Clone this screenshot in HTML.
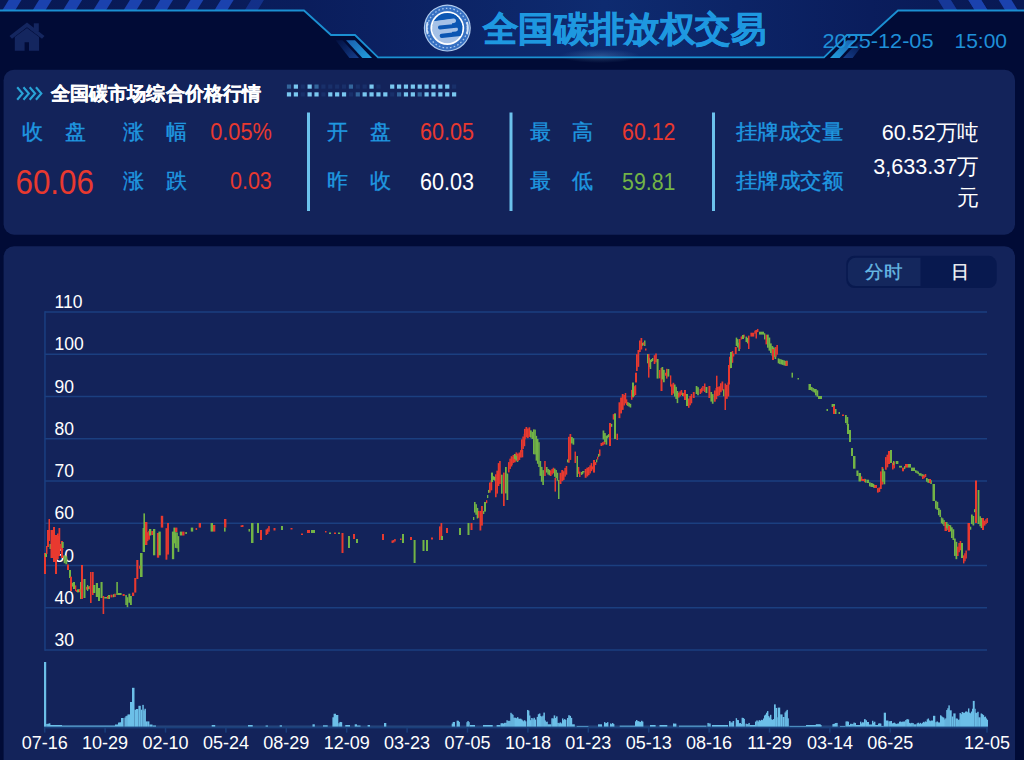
<!DOCTYPE html>
<html><head><meta charset="utf-8">
<style>
html,body{margin:0;padding:0;background:#010b36;width:1024px;height:760px;overflow:hidden}
svg{position:absolute;left:0;top:0;display:block}
text{font-family:"Liberation Sans",sans-serif}
</style></head>
<body>
<svg width="1024" height="760" viewBox="0 0 1024 760">
<defs>
<linearGradient id="hb" x1="0" y1="0" x2="1" y2="0">
<stop offset="0" stop-color="#081853"/>
<stop offset="0.3" stop-color="#0a1d5c"/>
<stop offset="0.59" stop-color="#0e2b70"/>
<stop offset="0.85" stop-color="#0a1d5c"/>
<stop offset="1" stop-color="#081853"/>
</linearGradient>
<radialGradient id="glow"><stop offset="0" stop-color="#6aa8d8" stop-opacity="0.3"/><stop offset="1" stop-color="#6aa8d8" stop-opacity="0"/></radialGradient>
<linearGradient id="pg1" x1="0" y1="0" x2="1" y2="1"><stop offset="0" stop-color="#1a5fae"/><stop offset="1" stop-color="#22a0de"/></linearGradient>
<linearGradient id="pg2" x1="0" y1="0" x2="1" y2="1"><stop offset="0" stop-color="#0d2e78" stop-opacity="0.2"/><stop offset="1" stop-color="#16408e"/></linearGradient>
<linearGradient id="pg1m" x1="1" y1="0" x2="0" y2="1"><stop offset="0" stop-color="#1a5fae"/><stop offset="1" stop-color="#22a0de"/></linearGradient>
<linearGradient id="pg2m" x1="1" y1="0" x2="0" y2="1"><stop offset="0" stop-color="#0d2e78" stop-opacity="0.2"/><stop offset="1" stop-color="#16408e"/></linearGradient>
</defs>
<polygon points="0,0 1024,0 1024,10.5 898,10.5 871,35 847,35 824,57.3 378,57.3 355,35 331,35 304,10.5 0,10.5" fill="url(#hb)"/>
<ellipse cx="600" cy="56" rx="40" ry="7" fill="url(#glow)"/>
<polygon points="2.2,10.5 15,10.5 21.5,0 8.7,0" fill="#1b42ae" opacity="1"/>
<polygon points="32.5,10.5 45.3,10.5 51.8,0 39,0" fill="#1b42ae" opacity="1"/>
<polygon points="62.8,10.5 75.6,10.5 82.1,0 69.3,0" fill="#1b42ae" opacity="1"/>
<polygon points="93.1,10.5 105.9,10.5 112.4,0 99.6,0" fill="#1b42ae" opacity="1"/>
<polygon points="123.4,10.5 136.2,10.5 142.7,0 129.9,0" fill="#1b42ae" opacity="1"/>
<polygon points="153.7,10.5 166.5,10.5 173,0 160.2,0" fill="#1b42ae" opacity="1"/>
<polygon points="184,10.5 196.8,10.5 203.3,0 190.5,0" fill="#1b42ae" opacity="1"/>
<polygon points="214.3,10.5 227.1,10.5 233.6,0 220.8,0" fill="#1b42ae" opacity="1"/>
<polygon points="987.7,10.5 974.9,10.5 968.4,0 981.2,0" fill="#1b42ae" opacity="1"/>
<polygon points="244.6,10.5 257.4,10.5 263.9,0 251.1,0" fill="#1b42ae" opacity="0.55"/>
<polygon points="957.4,10.5 944.6,10.5 938.1,0 950.9,0" fill="#1b42ae" opacity="0.5"/>
<polygon points="1018,10.5 1005.2,10.5 998.7,0 1011.5,0" fill="#1b42ae" opacity="1"/>
<polygon points="987.7,10.5 974.9,10.5 968.4,0 981.2,0" fill="#1b42ae" opacity="1"/>
<polygon points="957.4,10.5 944.6,10.5 938.1,0 950.9,0" fill="#1b42ae" opacity="0.5"/>
<polygon points="346,40.3 355,40.3 372,58 362.4,58" fill="url(#pg1)"/>
<polygon points="335.7,40.3 342.5,40.3 359,58 349.4,58" fill="url(#pg2)"/>
<polygon points="856,40.3 847,40.3 830,58 839.6,58" fill="url(#pg1m)"/>
<polygon points="866.3,40.3 859.5,40.3 843,58 852.6,58" fill="url(#pg2m)"/>
<polyline points="0,10.5 304,10.5 331,35 355,35 378,57.3 824,57.3 847,35 871,35 898,10.5 1024,10.5" fill="none" stroke="#1b90d2" stroke-width="1.8"/>
<g fill="#14265f"><path d="M9.5,36 L27,22.5 L44.5,36 L42,38.8 L27,27.3 L12,38.8 Z"/><rect x="33.8" y="23.3" width="5" height="8"/><path d="M14.8,37 L27,28 L39.1,37 L39.1,50.8 L29,50.8 L29,42.3 L24.6,42.3 L24.6,50.8 L14.8,50.8 Z"/></g>
<circle cx="447.3" cy="28.1" r="23.5" fill="#b3cdee"/>
<circle cx="447.3" cy="28.1" r="22.3" fill="#3670c2"/>
<circle cx="447.3" cy="28.1" r="19.8" fill="none" stroke="#a8c6ee" stroke-width="1.3" stroke-dasharray="1.6 2.2"/>
<path d="M427.6,22 A20.2,20.2 0 0 0 427.6,34.2 M467,22 A20.2,20.2 0 0 1 467,34.2" fill="none" stroke="#cfe0f6" stroke-width="1.8"/>
<circle cx="447.3" cy="28.1" r="16.9" fill="#ffffff"/>
<circle cx="447.3" cy="28.1" r="15.1" fill="#a5c1e7"/>
<clipPath id="lc"><circle cx="447.3" cy="28.1" r="15.1"/></clipPath>
<g clip-path="url(#lc)"><path d="M425,5 L470,5 L470,16.6 L425,22.8 Z" fill="#0b56b3"/><rect x="452" y="14" width="18" height="22" fill="#0b56b3"/><path d="M428,24.2 L453.8,20.8 M428,31.8 L455.8,29.2" stroke="#a5c1e7" stroke-width="4.4" stroke-linecap="round" fill="none"/><path d="M439.9,27.5 L472,24.1" stroke="#0b56b3" stroke-width="3.8" stroke-linecap="round" fill="none"/><path d="M441.8,35.8 L472,32.5" stroke="#0b56b3" stroke-width="4.3" stroke-linecap="round" fill="none"/></g>
<text x="483" y="41" font-size="35.3" textLength="283" lengthAdjust="spacingAndGlyphs" font-weight="bold" fill="#1e98e0" stroke="#1e98e0" stroke-width="0.6">全国碳排放权交易</text>
<text x="822.5" y="48.3" font-size="21" textLength="111" lengthAdjust="spacingAndGlyphs" fill="#1f90d8">2025-12-05</text>
<text x="954.5" y="48.3" font-size="21" fill="#1f90d8">15:00</text>

<!-- panel 1 -->
<rect x="3.6" y="69.7" width="1011.4" height="165" rx="10.5" fill="#13235a"/>
<path d="M17.2,87.2 L22.6,93.5 L17.2,99.8" fill="none" stroke="#29a3d6" stroke-width="2.1"/>
<path d="M23.45,87.2 L28.85,93.5 L23.45,99.8" fill="none" stroke="#29a3d6" stroke-width="2.1"/>
<path d="M29.7,87.2 L35.1,93.5 L29.7,99.8" fill="none" stroke="#29a3d6" stroke-width="2.1"/>
<path d="M35.95,87.2 L41.35,93.5 L35.95,99.8" fill="none" stroke="#29a3d6" stroke-width="2.1"/>
<text x="51" y="99.5" font-size="19" textLength="210" lengthAdjust="spacingAndGlyphs" font-weight="bold" fill="#ffffff" stroke="#ffffff" stroke-width="0.3">全国碳市场综合价格行情</text>
<rect x="286.9" y="84.5" width="4.2" height="4.2" fill="#33669c"/>
<rect x="293.78" y="84.5" width="4.2" height="4.2" fill="#7ac8f0"/>
<rect x="300.66" y="84.5" width="4.2" height="4.2" fill="#19306a"/>
<rect x="307.54" y="84.5" width="4.2" height="4.2" fill="#7ac8f0"/>
<rect x="314.42" y="84.5" width="4.2" height="4.2" fill="#33669c"/>
<rect x="321.3" y="84.5" width="4.2" height="4.2" fill="#19306a"/>
<rect x="328.18" y="84.5" width="4.2" height="4.2" fill="#19306a"/>
<rect x="335.06" y="84.5" width="4.2" height="4.2" fill="#19306a"/>
<rect x="341.94" y="84.5" width="4.2" height="4.2" fill="#19306a"/>
<rect x="348.82" y="84.5" width="4.2" height="4.2" fill="#33669c"/>
<rect x="355.7" y="84.5" width="4.2" height="4.2" fill="#19306a"/>
<rect x="362.58" y="84.5" width="4.2" height="4.2" fill="#19306a"/>
<rect x="369.46" y="84.5" width="4.2" height="4.2" fill="#7ac8f0"/>
<rect x="376.34" y="84.5" width="4.2" height="4.2" fill="#19306a"/>
<rect x="390.1" y="84.5" width="4.2" height="4.2" fill="#7ac8f0"/>
<rect x="396.98" y="84.5" width="4.2" height="4.2" fill="#7ac8f0"/>
<rect x="403.86" y="84.5" width="4.2" height="4.2" fill="#7ac8f0"/>
<rect x="410.74" y="84.5" width="4.2" height="4.2" fill="#7ac8f0"/>
<rect x="417.62" y="84.5" width="4.2" height="4.2" fill="#7ac8f0"/>
<rect x="424.5" y="84.5" width="4.2" height="4.2" fill="#7ac8f0"/>
<rect x="431.38" y="84.5" width="4.2" height="4.2" fill="#7ac8f0"/>
<rect x="438.26" y="84.5" width="4.2" height="4.2" fill="#7ac8f0"/>
<rect x="445.14" y="84.5" width="4.2" height="4.2" fill="#7ac8f0"/>
<rect x="452.02" y="84.5" width="4.2" height="4.2" fill="#19306a"/>
<rect x="286.9" y="92.3" width="4.2" height="4.2" fill="#7ac8f0"/>
<rect x="293.78" y="92.3" width="4.2" height="4.2" fill="#7ac8f0"/>
<rect x="300.66" y="92.3" width="4.2" height="4.2" fill="#19306a"/>
<rect x="307.54" y="92.3" width="4.2" height="4.2" fill="#7ac8f0"/>
<rect x="314.42" y="92.3" width="4.2" height="4.2" fill="#7ac8f0"/>
<rect x="321.3" y="92.3" width="4.2" height="4.2" fill="#19306a"/>
<rect x="328.18" y="92.3" width="4.2" height="4.2" fill="#7ac8f0"/>
<rect x="335.06" y="92.3" width="4.2" height="4.2" fill="#7ac8f0"/>
<rect x="341.94" y="92.3" width="4.2" height="4.2" fill="#7ac8f0"/>
<rect x="348.82" y="92.3" width="4.2" height="4.2" fill="#19306a"/>
<rect x="355.7" y="92.3" width="4.2" height="4.2" fill="#33669c"/>
<rect x="362.58" y="92.3" width="4.2" height="4.2" fill="#7ac8f0"/>
<rect x="369.46" y="92.3" width="4.2" height="4.2" fill="#7ac8f0"/>
<rect x="376.34" y="92.3" width="4.2" height="4.2" fill="#7ac8f0"/>
<rect x="383.22" y="92.3" width="4.2" height="4.2" fill="#7ac8f0"/>
<rect x="390.1" y="92.3" width="4.2" height="4.2" fill="#19306a"/>
<rect x="396.98" y="92.3" width="4.2" height="4.2" fill="#33669c"/>
<rect x="403.86" y="92.3" width="4.2" height="4.2" fill="#7ac8f0"/>
<rect x="410.74" y="92.3" width="4.2" height="4.2" fill="#7ac8f0"/>
<rect x="417.62" y="92.3" width="4.2" height="4.2" fill="#33669c"/>
<rect x="424.5" y="92.3" width="4.2" height="4.2" fill="#7ac8f0"/>
<rect x="431.38" y="92.3" width="4.2" height="4.2" fill="#7ac8f0"/>
<rect x="438.26" y="92.3" width="4.2" height="4.2" fill="#7ac8f0"/>
<rect x="445.14" y="92.3" width="4.2" height="4.2" fill="#7ac8f0"/>
<rect x="452.02" y="92.3" width="4.2" height="4.2" fill="#7ac8f0"/>
<rect x="307" y="112.5" width="3" height="98.5" fill="#6cc2ec"/>
<rect x="509.5" y="112.5" width="3" height="98.5" fill="#6cc2ec"/>
<rect x="712" y="112.5" width="3" height="98.5" fill="#6cc2ec"/>
<g font-size="21" fill="#1f98e0" stroke="#1f98e0" stroke-width="0.35">
<text x="22" y="138.5">收</text><text x="64.5" y="138.5">盘</text>
<text x="123" y="138.5">涨</text><text x="165.5" y="138.5">幅</text>
<text x="123" y="188">涨</text><text x="165.5" y="188">跌</text>
<text x="327" y="138.5">开</text><text x="369.5" y="138.5">盘</text>
<text x="327" y="188">昨</text><text x="369.5" y="188">收</text>
<text x="529.5" y="138.5">最</text><text x="572" y="138.5">高</text>
<text x="529.5" y="188">最</text><text x="572" y="188">低</text>
<text x="735.5" y="139" textLength="108" lengthAdjust="spacingAndGlyphs">挂牌成交量</text>
<text x="735.5" y="188" textLength="108" lengthAdjust="spacingAndGlyphs">挂牌成交额</text>
</g>
<text x="271.8" y="140.1" font-size="23.5" textLength="61.6" lengthAdjust="spacingAndGlyphs" fill="#e8392f" text-anchor="end">0.05%</text>
<text x="15.5" y="194" font-size="34.5" textLength="78.4" lengthAdjust="spacingAndGlyphs" fill="#e8392f">60.06</text>
<text x="271.8" y="189.4" font-size="23.5" textLength="41.8" lengthAdjust="spacingAndGlyphs" fill="#e8392f" text-anchor="end">0.03</text>
<text x="474" y="140" font-size="23.5" textLength="54" lengthAdjust="spacingAndGlyphs" fill="#e8392f" text-anchor="end">60.05</text>
<text x="474" y="189.5" font-size="23.5" textLength="54" lengthAdjust="spacingAndGlyphs" fill="#ffffff" text-anchor="end">60.03</text>
<text x="675.5" y="140" font-size="23.5" textLength="53.4" lengthAdjust="spacingAndGlyphs" fill="#e8392f" text-anchor="end">60.12</text>
<text x="675.5" y="189.5" font-size="23.5" textLength="53.4" lengthAdjust="spacingAndGlyphs" fill="#72b446" text-anchor="end">59.81</text>
<text x="979" y="140" font-size="22" textLength="97.3" lengthAdjust="spacingAndGlyphs" fill="#ffffff" text-anchor="end">60.52万吨</text>
<text x="979" y="173.5" font-size="22" textLength="105.7" lengthAdjust="spacingAndGlyphs" fill="#ffffff" text-anchor="end">3,633.37万</text>
<text x="978.5" y="205" font-size="22" fill="#ffffff" text-anchor="end">元</text>

<!-- panel 2 -->
<rect x="3.6" y="246.2" width="1011.4" height="540" rx="10.5" fill="#13235a"/>
<rect x="846.3" y="255.8" width="150.4" height="32.2" rx="8" fill="#08194f"/>
<path d="M855.8,257.8 L920.5,257.8 L920.5,286 L855.8,286 A8,8 0 0 1 847.8,278 L847.8,265.8 A8,8 0 0 1 855.8,257.8 Z" fill="#14275d"/>
<text x="883.8" y="278.2" font-size="18" textLength="37" lengthAdjust="spacingAndGlyphs" fill="#66b9e4" stroke="#66b9e4" stroke-width="0.3" text-anchor="middle">分时</text>
<text x="959.5" y="278.2" font-size="18" fill="#ffffff" stroke="#ffffff" stroke-width="0.3" text-anchor="middle">日</text>
<rect x="45" y="311.25" width="942" height="1.5" fill="#1b3f80"/>
<rect x="45" y="353.5" width="942" height="1.5" fill="#1b3f80"/>
<rect x="45" y="395.75" width="942" height="1.5" fill="#1b3f80"/>
<rect x="45" y="438" width="942" height="1.5" fill="#1b3f80"/>
<rect x="45" y="480.25" width="942" height="1.5" fill="#1b3f80"/>
<rect x="45" y="522.5" width="942" height="1.5" fill="#1b3f80"/>
<rect x="45" y="564.75" width="942" height="1.5" fill="#1b3f80"/>
<rect x="45" y="607" width="942" height="1.5" fill="#1b3f80"/>
<rect x="45" y="649.25" width="942" height="1.5" fill="#1b3f80"/>
<rect x="44.2" y="311.25" width="1.5" height="339.5" fill="#1b3f80"/>
<text x="54.5" y="308" font-size="17.5" fill="#ffffff">110</text>
<text x="54.5" y="350.25" font-size="17.5" fill="#ffffff">100</text>
<text x="54.5" y="392.5" font-size="17.5" fill="#ffffff">90</text>
<text x="54.5" y="434.75" font-size="17.5" fill="#ffffff">80</text>
<text x="54.5" y="477" font-size="17.5" fill="#ffffff">70</text>
<text x="54.5" y="519.25" font-size="17.5" fill="#ffffff">60</text>
<text x="54.5" y="561.5" font-size="17.5" fill="#ffffff">50</text>
<text x="54.5" y="603.75" font-size="17.5" fill="#ffffff">40</text>
<text x="54.5" y="646" font-size="17.5" fill="#ffffff">30</text>
<text x="44.7" y="749" font-size="18" fill="#ffffff" text-anchor="middle">07-16</text>
<text x="105.1" y="749" font-size="18" fill="#ffffff" text-anchor="middle">10-29</text>
<text x="165.5" y="749" font-size="18" fill="#ffffff" text-anchor="middle">02-10</text>
<text x="225.9" y="749" font-size="18" fill="#ffffff" text-anchor="middle">05-24</text>
<text x="286.3" y="749" font-size="18" fill="#ffffff" text-anchor="middle">08-29</text>
<text x="346.7" y="749" font-size="18" fill="#ffffff" text-anchor="middle">12-09</text>
<text x="407.1" y="749" font-size="18" fill="#ffffff" text-anchor="middle">03-23</text>
<text x="467.5" y="749" font-size="18" fill="#ffffff" text-anchor="middle">07-05</text>
<text x="527.9" y="749" font-size="18" fill="#ffffff" text-anchor="middle">10-18</text>
<text x="588.3" y="749" font-size="18" fill="#ffffff" text-anchor="middle">01-23</text>
<text x="648.7" y="749" font-size="18" fill="#ffffff" text-anchor="middle">05-13</text>
<text x="709.1" y="749" font-size="18" fill="#ffffff" text-anchor="middle">08-16</text>
<text x="769.5" y="749" font-size="18" fill="#ffffff" text-anchor="middle">11-29</text>
<text x="829.9" y="749" font-size="18" fill="#ffffff" text-anchor="middle">03-14</text>
<text x="890.3" y="749" font-size="18" fill="#ffffff" text-anchor="middle">06-25</text>
<text x="987" y="749" font-size="18" fill="#ffffff" text-anchor="middle">12-05</text>
<rect x="44" y="553" width="2" height="21" fill="#e8392f"/>
<rect x="45" y="553" width="2" height="4" fill="#72b446"/>
<rect x="46" y="546" width="1.5" height="8" fill="#e8392f"/>
<rect x="47" y="530" width="2" height="17" fill="#e8392f"/>
<rect x="48.5" y="519" width="1.5" height="22" fill="#e8392f"/>
<rect x="49.5" y="544" width="1.5" height="5" fill="#72b446"/>
<rect x="50.5" y="530" width="2.5" height="28" fill="#e8392f"/>
<rect x="53" y="527" width="2" height="35" fill="#e8392f"/>
<rect x="55" y="535" width="2" height="39" fill="#e8392f"/>
<rect x="57" y="533.5" width="1.75" height="25.6" fill="#e8392f"/>
<rect x="58.5" y="528" width="1.75" height="25.6" fill="#e8392f"/>
<rect x="58" y="536" width="2" height="20" fill="#e8392f"/>
<rect x="61" y="541" width="2" height="17" fill="#e8392f"/>
<rect x="61.6" y="542" width="2.1" height="6" fill="#72b446"/>
<rect x="63.7" y="555.24" width="1.9" height="8" fill="#72b446"/>
<rect x="65.35" y="556.32" width="1.9" height="8" fill="#72b446"/>
<rect x="67" y="564.5" width="2" height="5.5" fill="#e8392f"/>
<rect x="69" y="570" width="2" height="8" fill="#72b446"/>
<rect x="70" y="576.7" width="2" height="14.3" fill="#e8392f"/>
<rect x="73" y="582" width="2" height="7" fill="#72b446"/>
<rect x="76" y="590" width="1.2" height="2" fill="#e8392f"/>
<rect x="80" y="582" width="2" height="17" fill="#72b446"/>
<rect x="81" y="565" width="2" height="34" fill="#e8392f"/>
<rect x="83.5" y="579" width="2" height="19" fill="#72b446"/>
<rect x="87" y="585" width="1.2" height="6" fill="#72b446"/>
<rect x="90" y="572" width="1.6" height="31" fill="#e8392f"/>
<rect x="92" y="572" width="1.7" height="23" fill="#e8392f"/>
<rect x="93" y="585" width="2.3" height="8" fill="#72b446"/>
<rect x="95.8" y="583" width="2.2" height="14" fill="#72b446"/>
<rect x="98" y="588" width="2" height="13" fill="#72b446"/>
<rect x="100.5" y="582" width="2.1" height="16" fill="#72b446"/>
<rect x="102.6" y="596" width="1.6" height="18" fill="#e8392f"/>
<rect x="104.2" y="597" width="2.8" height="1.5" fill="#72b446"/>
<rect x="108" y="595" width="2" height="4" fill="#72b446"/>
<rect x="110.5" y="594.7" width="2.1" height="2.7" fill="#e8392f"/>
<rect x="114.2" y="593.7" width="1.6" height="3.3" fill="#e8392f"/>
<rect x="116.3" y="582" width="1.6" height="13" fill="#72b446"/>
<rect x="117.9" y="593" width="3.7" height="2" fill="#72b446"/>
<rect x="122.6" y="594" width="2.1" height="2" fill="#e8392f"/>
<rect x="125.3" y="595.07" width="1.6" height="9.92" fill="#72b446"/>
<rect x="126.65" y="597.21" width="1.6" height="9.92" fill="#72b446"/>
<rect x="128.4" y="593.7" width="1.85" height="9.04" fill="#72b446"/>
<rect x="130" y="595.96" width="1.85" height="9.04" fill="#72b446"/>
<rect x="132" y="592.6" width="2.2" height="3.4" fill="#e8392f"/>
<rect x="134.2" y="578" width="2.1" height="14.6" fill="#e8392f"/>
<rect x="136.3" y="560" width="2.1" height="19" fill="#e8392f"/>
<rect x="140" y="553" width="2.6" height="24" fill="#72b446"/>
<rect x="142.6" y="528" width="2.4" height="24" fill="#72b446"/>
<rect x="143.4" y="513.4" width="1.6" height="22.6" fill="#72b446"/>
<rect x="145" y="522" width="2.4" height="23" fill="#e8392f"/>
<rect x="146.6" y="532.2" width="1.8" height="8.88" fill="#e8392f"/>
<rect x="148.15" y="530.8" width="1.8" height="8.88" fill="#e8392f"/>
<rect x="149" y="529" width="2.3" height="6.5" fill="#72b446"/>
<rect x="151.3" y="531" width="1.7" height="4" fill="#e8392f"/>
<rect x="153" y="529" width="2.3" height="26.3" fill="#72b446"/>
<rect x="156.9" y="533" width="2.3" height="24.7" fill="#e8392f"/>
<rect x="158.4" y="531.6" width="2.4" height="23.7" fill="#72b446"/>
<rect x="160.8" y="515.8" width="2.4" height="11.8" fill="#e8392f"/>
<rect x="165.5" y="528.17" width="1.85" height="31.52" fill="#e8392f"/>
<rect x="167.1" y="523" width="1.85" height="31.52" fill="#e8392f"/>
<rect x="171.9" y="531.6" width="2.3" height="27.6" fill="#72b446"/>
<rect x="173.4" y="527.6" width="1.65" height="15.75" fill="#72b446"/>
<rect x="174.8" y="532.15" width="1.65" height="15.75" fill="#72b446"/>
<rect x="176.2" y="532.51" width="1.65" height="15.75" fill="#72b446"/>
<rect x="177.6" y="536.13" width="1.65" height="15.75" fill="#72b446"/>
<rect x="175" y="527.6" width="2.4" height="4.4" fill="#e8392f"/>
<rect x="179.8" y="531.6" width="2.3" height="3.9" fill="#72b446"/>
<rect x="182.1" y="531.6" width="2.4" height="3.9" fill="#e8392f"/>
<rect x="185.3" y="532" width="1.6" height="2" fill="#72b446"/>
<rect x="190.8" y="527.6" width="2.4" height="4" fill="#72b446"/>
<rect x="195.6" y="528" width="1.5" height="2" fill="#e8392f"/>
<rect x="198.7" y="523" width="2.3" height="4.6" fill="#e8392f"/>
<rect x="210.6" y="523" width="2.4" height="8.6" fill="#72b446"/>
<rect x="213" y="525" width="2.3" height="6.6" fill="#e8392f"/>
<rect x="224" y="519" width="2.4" height="8.6" fill="#e8392f"/>
<rect x="224" y="527.6" width="1.6" height="4" fill="#72b446"/>
<rect x="240.6" y="525.3" width="2.4" height="1.7" fill="#e8392f"/>
<rect x="248.5" y="529" width="1.5" height="2.6" fill="#72b446"/>
<rect x="242" y="525" width="1.5" height="2" fill="#e8392f"/>
<rect x="251" y="523" width="2.5" height="20" fill="#72b446"/>
<rect x="257" y="523" width="2" height="10" fill="#72b446"/>
<rect x="260" y="530" width="2" height="10" fill="#e8392f"/>
<rect x="265.5" y="529.42" width="1.58" height="5.58" fill="#e8392f"/>
<rect x="266.83" y="528.35" width="1.58" height="5.58" fill="#e8392f"/>
<rect x="268.17" y="526.11" width="1.58" height="5.58" fill="#e8392f"/>
<rect x="273.5" y="528" width="2" height="2.5" fill="#e8392f"/>
<rect x="281" y="526" width="2" height="4" fill="#72b446"/>
<rect x="290.5" y="528" width="2" height="1.5" fill="#e8392f"/>
<rect x="301" y="533.5" width="2" height="1.5" fill="#e8392f"/>
<rect x="307" y="530" width="3" height="3" fill="#e8392f"/>
<rect x="311" y="530" width="4" height="3" fill="#72b446"/>
<rect x="325" y="531" width="1.5" height="1.5" fill="#e8392f"/>
<rect x="329" y="532.5" width="2" height="1.5" fill="#72b446"/>
<rect x="334" y="532.5" width="2" height="1.5" fill="#e8392f"/>
<rect x="338" y="532.5" width="2" height="1.5" fill="#72b446"/>
<rect x="341.5" y="533" width="2" height="20" fill="#e8392f"/>
<rect x="348" y="536" width="2" height="12" fill="#72b446"/>
<rect x="353" y="534" width="2" height="5" fill="#e8392f"/>
<rect x="356" y="539" width="2" height="4" fill="#72b446"/>
<rect x="382" y="534" width="2" height="6" fill="#e8392f"/>
<rect x="391.5" y="540.45" width="1.58" height="2.48" fill="#e8392f"/>
<rect x="392.83" y="540.06" width="1.58" height="2.48" fill="#e8392f"/>
<rect x="394.17" y="539" width="1.58" height="2.48" fill="#e8392f"/>
<rect x="400" y="538.5" width="1.5" height="1.5" fill="#e8392f"/>
<rect x="402" y="534" width="2" height="9" fill="#72b446"/>
<rect x="410" y="537" width="2" height="3" fill="#e8392f"/>
<rect x="413.6" y="540" width="2" height="23" fill="#72b446"/>
<rect x="422.5" y="540" width="2" height="11" fill="#72b446"/>
<rect x="426" y="540" width="2" height="11" fill="#72b446"/>
<rect x="431" y="537.5" width="2" height="2" fill="#e8392f"/>
<rect x="439" y="526.4" width="1.75" height="13.6" fill="#e8392f"/>
<rect x="440.5" y="523" width="1.75" height="13.6" fill="#e8392f"/>
<rect x="441" y="536" width="2" height="4" fill="#72b446"/>
<rect x="446" y="528" width="2" height="5" fill="#e8392f"/>
<rect x="459" y="528" width="2" height="7" fill="#72b446"/>
<rect x="467.5" y="523" width="2" height="12" fill="#72b446"/>
<rect x="470.5" y="523" width="2" height="7" fill="#e8392f"/>
<rect x="474" y="502" width="1.58" height="10.54" fill="#72b446"/>
<rect x="475.33" y="504.19" width="1.58" height="10.54" fill="#72b446"/>
<rect x="476.67" y="507.94" width="1.58" height="10.54" fill="#72b446"/>
<rect x="479.5" y="510.9" width="1.8" height="19.6" fill="#e8392f"/>
<rect x="481.05" y="506" width="1.8" height="19.6" fill="#e8392f"/>
<rect x="484" y="502" width="2" height="9.6" fill="#72b446"/>
<rect x="489" y="482.52" width="1.75" height="10.08" fill="#e8392f"/>
<rect x="490.5" y="480.28" width="1.75" height="10.08" fill="#e8392f"/>
<rect x="491" y="472.6" width="2" height="9.4" fill="#72b446"/>
<rect x="495" y="474.3" width="1.62" height="22.94" fill="#e8392f"/>
<rect x="496.38" y="470.66" width="1.62" height="22.94" fill="#e8392f"/>
<rect x="497.75" y="463.1" width="1.62" height="22.94" fill="#e8392f"/>
<rect x="499.12" y="461" width="1.62" height="22.94" fill="#e8392f"/>
<rect x="501" y="474.7" width="1.6" height="19" fill="#72b446"/>
<rect x="503" y="472.6" width="1.7" height="33.4" fill="#e8392f"/>
<rect x="505" y="467" width="1.75" height="26.4" fill="#72b446"/>
<rect x="506.5" y="473.6" width="1.75" height="26.4" fill="#72b446"/>
<rect x="508" y="462.12" width="1.58" height="10.29" fill="#e8392f"/>
<rect x="509.33" y="458.66" width="1.58" height="10.29" fill="#e8392f"/>
<rect x="510.67" y="456.23" width="1.58" height="10.29" fill="#e8392f"/>
<rect x="511" y="456.84" width="1.75" height="8.06" fill="#e8392f"/>
<rect x="512.5" y="454.88" width="1.75" height="8.06" fill="#e8392f"/>
<rect x="514" y="454.26" width="1.75" height="8.06" fill="#e8392f"/>
<rect x="515.5" y="452.41" width="1.75" height="8.06" fill="#e8392f"/>
<rect x="514" y="454" width="1.58" height="4.96" fill="#72b446"/>
<rect x="515.33" y="455.62" width="1.58" height="4.96" fill="#72b446"/>
<rect x="516.67" y="457.04" width="1.58" height="4.96" fill="#72b446"/>
<rect x="517" y="453.56" width="1.75" height="7.44" fill="#e8392f"/>
<rect x="518.5" y="452.48" width="1.75" height="7.44" fill="#e8392f"/>
<rect x="520" y="450.11" width="1.75" height="7.44" fill="#e8392f"/>
<rect x="521.5" y="449.92" width="1.75" height="7.44" fill="#e8392f"/>
<rect x="521" y="439.38" width="1.58" height="12.4" fill="#e8392f"/>
<rect x="522.33" y="436.54" width="1.58" height="12.4" fill="#e8392f"/>
<rect x="523.67" y="433.82" width="1.58" height="12.4" fill="#e8392f"/>
<rect x="524" y="428.88" width="1.75" height="10.4" fill="#e8392f"/>
<rect x="525.5" y="427" width="1.75" height="10.4" fill="#e8392f"/>
<rect x="527" y="428.52" width="1.75" height="9.6" fill="#e8392f"/>
<rect x="528.5" y="427.32" width="1.75" height="9.6" fill="#e8392f"/>
<rect x="530" y="430.38" width="1.75" height="7.2" fill="#72b446"/>
<rect x="531.5" y="431.8" width="1.75" height="7.2" fill="#72b446"/>
<rect x="533" y="429.4" width="1.55" height="24.8" fill="#72b446"/>
<rect x="534.3" y="429.61" width="1.55" height="24.8" fill="#72b446"/>
<rect x="535.6" y="435.85" width="1.55" height="24.8" fill="#72b446"/>
<rect x="536.9" y="439" width="1.55" height="24.8" fill="#72b446"/>
<rect x="538.2" y="442.2" width="1.55" height="24.8" fill="#72b446"/>
<rect x="539.5" y="461" width="1.65" height="14.88" fill="#72b446"/>
<rect x="540.9" y="466.87" width="1.65" height="14.88" fill="#72b446"/>
<rect x="542.3" y="470.12" width="1.65" height="14.88" fill="#72b446"/>
<rect x="544.2" y="461" width="1.5" height="15" fill="#e8392f"/>
<rect x="546" y="467" width="1.58" height="5.58" fill="#72b446"/>
<rect x="547.33" y="468.95" width="1.58" height="5.58" fill="#72b446"/>
<rect x="548.67" y="469.79" width="1.58" height="5.58" fill="#72b446"/>
<rect x="550" y="470.42" width="1.58" height="5.58" fill="#e8392f"/>
<rect x="551.33" y="468.92" width="1.58" height="5.58" fill="#e8392f"/>
<rect x="552.67" y="467.71" width="1.58" height="5.58" fill="#e8392f"/>
<rect x="554" y="468.67" width="1.58" height="8.06" fill="#72b446"/>
<rect x="555.33" y="470.02" width="1.58" height="8.06" fill="#72b446"/>
<rect x="556.67" y="472.7" width="1.58" height="8.06" fill="#72b446"/>
<rect x="554.5" y="478" width="1.5" height="13.6" fill="#e8392f"/>
<rect x="558" y="480" width="1.5" height="19" fill="#72b446"/>
<rect x="559.5" y="472.8" width="2" height="11.2" fill="#e8392f"/>
<rect x="561.25" y="470" width="2" height="11.2" fill="#e8392f"/>
<rect x="563" y="471.23" width="1.58" height="8.68" fill="#e8392f"/>
<rect x="564.33" y="467.92" width="1.58" height="8.68" fill="#e8392f"/>
<rect x="565.67" y="466" width="1.58" height="8.68" fill="#e8392f"/>
<rect x="568" y="436.79" width="1.75" height="25.92" fill="#e8392f"/>
<rect x="569.5" y="433.99" width="1.75" height="25.92" fill="#e8392f"/>
<rect x="571" y="437" width="1.75" height="6.4" fill="#72b446"/>
<rect x="572.5" y="438.28" width="1.75" height="6.4" fill="#72b446"/>
<rect x="574.5" y="451.6" width="1.5" height="11.4" fill="#e8392f"/>
<rect x="576.5" y="456" width="1.5" height="21" fill="#72b446"/>
<rect x="579" y="471.6" width="1.5" height="5.4" fill="#e8392f"/>
<rect x="583" y="471" width="1.5" height="1.5" fill="#72b446"/>
<rect x="584.7" y="469.01" width="1.9" height="8.8" fill="#e8392f"/>
<rect x="586.35" y="467.65" width="1.9" height="8.8" fill="#e8392f"/>
<rect x="588" y="467.07" width="1.58" height="8.06" fill="#e8392f"/>
<rect x="589.33" y="465.36" width="1.58" height="8.06" fill="#e8392f"/>
<rect x="590.67" y="463.1" width="1.58" height="8.06" fill="#e8392f"/>
<rect x="593" y="460" width="2" height="12.6" fill="#e8392f"/>
<rect x="599" y="449.5" width="1.5" height="6.3" fill="#e8392f"/>
<rect x="600.5" y="442.9" width="1.75" height="3.1" fill="#e8392f"/>
<rect x="602" y="442.21" width="1.75" height="3.1" fill="#e8392f"/>
<rect x="603.5" y="441.29" width="1.75" height="3.1" fill="#e8392f"/>
<rect x="602.6" y="430.5" width="1.72" height="8.99" fill="#72b446"/>
<rect x="604.07" y="433.06" width="1.72" height="8.99" fill="#72b446"/>
<rect x="605.53" y="435.68" width="1.72" height="8.99" fill="#72b446"/>
<rect x="609" y="423" width="2" height="23" fill="#e8392f"/>
<rect x="612.7" y="414.16" width="1.7" height="5.44" fill="#e8392f"/>
<rect x="614.15" y="413.3" width="1.7" height="5.44" fill="#e8392f"/>
<rect x="614" y="413.7" width="2" height="25.3" fill="#72b446"/>
<rect x="616.5" y="433.7" width="1.5" height="6.3" fill="#e8392f"/>
<rect x="618.5" y="402.3" width="1.88" height="15.87" fill="#e8392f"/>
<rect x="620.13" y="397.54" width="1.88" height="15.87" fill="#e8392f"/>
<rect x="621.77" y="394" width="1.88" height="15.87" fill="#e8392f"/>
<rect x="623.4" y="395.05" width="1.55" height="10.4" fill="#e8392f"/>
<rect x="624.7" y="393" width="1.55" height="10.4" fill="#e8392f"/>
<rect x="627" y="402.09" width="1.58" height="3.72" fill="#72b446"/>
<rect x="628.33" y="402.91" width="1.58" height="3.72" fill="#72b446"/>
<rect x="629.67" y="403.8" width="1.58" height="3.72" fill="#72b446"/>
<rect x="631" y="389.87" width="1.5" height="9.92" fill="#e8392f"/>
<rect x="632.25" y="387.72" width="1.5" height="9.92" fill="#e8392f"/>
<rect x="633.5" y="386.2" width="1.5" height="9.92" fill="#e8392f"/>
<rect x="634.75" y="385.16" width="1.5" height="9.92" fill="#e8392f"/>
<rect x="632" y="382.5" width="2" height="14.5" fill="#72b446"/>
<rect x="635" y="372.7" width="2" height="9.8" fill="#e8392f"/>
<rect x="636" y="354.2" width="1.75" height="16.8" fill="#e8392f"/>
<rect x="637.5" y="350.05" width="1.75" height="16.8" fill="#e8392f"/>
<rect x="639" y="340.48" width="1.75" height="11.52" fill="#e8392f"/>
<rect x="640.5" y="338.01" width="1.75" height="11.52" fill="#e8392f"/>
<rect x="644" y="340.5" width="1.5" height="5.5" fill="#72b446"/>
<rect x="645" y="348.5" width="1.5" height="2" fill="#e8392f"/>
<rect x="647" y="354" width="1.58" height="9.3" fill="#72b446"/>
<rect x="648.33" y="357.81" width="1.58" height="9.3" fill="#72b446"/>
<rect x="649.67" y="359.7" width="1.58" height="9.3" fill="#72b446"/>
<rect x="648" y="354" width="1.5" height="23.6" fill="#e8392f"/>
<rect x="653.7" y="355.2" width="1.7" height="8.8" fill="#e8392f"/>
<rect x="655.15" y="353.52" width="1.7" height="8.8" fill="#e8392f"/>
<rect x="656.6" y="359" width="2" height="19.6" fill="#72b446"/>
<rect x="660.5" y="368" width="2" height="23" fill="#e8392f"/>
<rect x="661.5" y="367" width="1.75" height="12.4" fill="#72b446"/>
<rect x="663" y="369.85" width="1.75" height="12.4" fill="#72b446"/>
<rect x="666" y="368.8" width="1.5" height="9.8" fill="#e8392f"/>
<rect x="667.4" y="369" width="1.9" height="7.6" fill="#72b446"/>
<rect x="671" y="384.34" width="1.75" height="10.8" fill="#e8392f"/>
<rect x="672.5" y="382.79" width="1.75" height="10.8" fill="#e8392f"/>
<rect x="674" y="384.5" width="1.58" height="12.09" fill="#72b446"/>
<rect x="675.33" y="386.86" width="1.58" height="12.09" fill="#72b446"/>
<rect x="676.67" y="391" width="1.58" height="12.09" fill="#72b446"/>
<rect x="678" y="392.61" width="1.58" height="4.96" fill="#e8392f"/>
<rect x="679.33" y="391.32" width="1.58" height="4.96" fill="#e8392f"/>
<rect x="680.67" y="390" width="1.58" height="4.96" fill="#e8392f"/>
<rect x="684" y="390" width="2" height="10" fill="#e8392f"/>
<rect x="686" y="394" width="2" height="12" fill="#72b446"/>
<rect x="688" y="398.5" width="1.58" height="9.3" fill="#e8392f"/>
<rect x="689.33" y="396.01" width="1.58" height="9.3" fill="#e8392f"/>
<rect x="690.67" y="394" width="1.58" height="9.3" fill="#e8392f"/>
<rect x="692.8" y="392" width="1.9" height="6" fill="#e8392f"/>
<rect x="695.7" y="386" width="1.7" height="8" fill="#72b446"/>
<rect x="697.15" y="387.24" width="1.7" height="8" fill="#72b446"/>
<rect x="699.6" y="389.04" width="1.55" height="4.96" fill="#e8392f"/>
<rect x="700.9" y="387.67" width="1.55" height="4.96" fill="#e8392f"/>
<rect x="702.2" y="386" width="1.55" height="4.96" fill="#e8392f"/>
<rect x="704" y="383.5" width="1.5" height="8.5" fill="#e8392f"/>
<rect x="705.5" y="387" width="1.9" height="6" fill="#72b446"/>
<rect x="708.4" y="386" width="2" height="12" fill="#e8392f"/>
<rect x="710.4" y="392" width="1.7" height="9.6" fill="#72b446"/>
<rect x="711.85" y="394.11" width="1.7" height="9.6" fill="#72b446"/>
<rect x="714" y="390.5" width="1.75" height="11.2" fill="#e8392f"/>
<rect x="715.5" y="388" width="1.75" height="11.2" fill="#e8392f"/>
<rect x="716" y="375.7" width="1.5" height="12.3" fill="#e8392f"/>
<rect x="717" y="387.01" width="1.75" height="8.99" fill="#e8392f"/>
<rect x="718.5" y="386.32" width="1.75" height="8.99" fill="#e8392f"/>
<rect x="720" y="383.26" width="1.75" height="8.99" fill="#e8392f"/>
<rect x="721.5" y="381.5" width="1.75" height="8.99" fill="#e8392f"/>
<rect x="724.5" y="383.5" width="1.5" height="26.5" fill="#e8392f"/>
<rect x="726" y="384.84" width="1.75" height="14" fill="#e8392f"/>
<rect x="727.5" y="382.5" width="1.75" height="14" fill="#e8392f"/>
<rect x="728" y="365" width="2" height="19.5" fill="#e8392f"/>
<rect x="729" y="356.74" width="1.58" height="11.78" fill="#e8392f"/>
<rect x="730.33" y="352.89" width="1.58" height="11.78" fill="#e8392f"/>
<rect x="731.67" y="351" width="1.58" height="11.78" fill="#e8392f"/>
<rect x="730" y="352" width="2" height="16" fill="#72b446"/>
<rect x="734.8" y="347" width="1.9" height="7" fill="#e8392f"/>
<rect x="735.7" y="337.6" width="1.55" height="8.31" fill="#72b446"/>
<rect x="737" y="339.12" width="1.55" height="8.31" fill="#72b446"/>
<rect x="738.3" y="342.69" width="1.55" height="8.31" fill="#72b446"/>
<rect x="739" y="339" width="1.5" height="10" fill="#e8392f"/>
<rect x="740.6" y="336.46" width="1.55" height="3.04" fill="#e8392f"/>
<rect x="741.9" y="335.25" width="1.55" height="3.04" fill="#e8392f"/>
<rect x="743.2" y="334.63" width="1.55" height="3.04" fill="#e8392f"/>
<rect x="742" y="335" width="2" height="4" fill="#72b446"/>
<rect x="745.5" y="336.6" width="1.7" height="5.44" fill="#72b446"/>
<rect x="746.95" y="337.96" width="1.7" height="5.44" fill="#72b446"/>
<rect x="748" y="335.6" width="1.5" height="13.4" fill="#e8392f"/>
<rect x="750.4" y="332.7" width="3.9" height="3.9" fill="#e8392f"/>
<rect x="754.3" y="330.66" width="1.55" height="3.04" fill="#e8392f"/>
<rect x="755.6" y="330.02" width="1.55" height="3.04" fill="#e8392f"/>
<rect x="756.9" y="328.95" width="1.55" height="3.04" fill="#e8392f"/>
<rect x="755.5" y="330" width="1.5" height="8.5" fill="#e8392f"/>
<rect x="759" y="331.7" width="5" height="2.9" fill="#72b446"/>
<rect x="765.5" y="334.6" width="1.5" height="9.8" fill="#e8392f"/>
<rect x="767" y="334.6" width="1.75" height="13.12" fill="#72b446"/>
<rect x="768.5" y="337.53" width="1.75" height="13.12" fill="#72b446"/>
<rect x="770" y="343.4" width="1.75" height="9.67" fill="#72b446"/>
<rect x="771.5" y="346.05" width="1.75" height="9.67" fill="#72b446"/>
<rect x="773" y="347.43" width="1.75" height="9.67" fill="#72b446"/>
<rect x="774.5" y="349.33" width="1.75" height="9.67" fill="#72b446"/>
<rect x="772" y="349" width="2" height="11" fill="#e8392f"/>
<rect x="775" y="347.07" width="1.6" height="9.6" fill="#e8392f"/>
<rect x="776.35" y="345" width="1.6" height="9.6" fill="#e8392f"/>
<rect x="777.7" y="358.4" width="1.65" height="4.96" fill="#72b446"/>
<rect x="779.1" y="359.13" width="1.65" height="4.96" fill="#72b446"/>
<rect x="780.5" y="359.46" width="1.65" height="4.96" fill="#72b446"/>
<rect x="781.9" y="359.91" width="1.65" height="4.96" fill="#72b446"/>
<rect x="783.3" y="360.43" width="1.65" height="4.96" fill="#72b446"/>
<rect x="784.7" y="360.84" width="1.65" height="4.96" fill="#72b446"/>
<rect x="786.1" y="360.69" width="1.65" height="4.96" fill="#72b446"/>
<rect x="785.5" y="361" width="2" height="5" fill="#e8392f"/>
<rect x="791.5" y="372.7" width="1.5" height="4.9" fill="#72b446"/>
<rect x="797.5" y="378" width="1.5" height="1.5" fill="#72b446"/>
<rect x="808.5" y="384" width="2.5" height="6" fill="#72b446"/>
<rect x="811" y="387.02" width="1.58" height="3.72" fill="#72b446"/>
<rect x="812.33" y="388" width="1.58" height="3.72" fill="#72b446"/>
<rect x="813.67" y="388.83" width="1.58" height="3.72" fill="#72b446"/>
<rect x="815" y="389" width="1.75" height="6.4" fill="#72b446"/>
<rect x="816.5" y="390.32" width="1.75" height="6.4" fill="#72b446"/>
<rect x="818" y="396" width="4" height="3" fill="#72b446"/>
<rect x="826.5" y="409" width="1.5" height="2" fill="#72b446"/>
<rect x="831.6" y="404" width="3.4" height="3" fill="#72b446"/>
<rect x="833" y="406" width="2" height="8" fill="#e8392f"/>
<rect x="835" y="409" width="1.5" height="5" fill="#72b446"/>
<rect x="838.5" y="412" width="1.5" height="2" fill="#72b446"/>
<rect x="842" y="414.5" width="2" height="1.5" fill="#e8392f"/>
<rect x="845" y="415" width="1.75" height="8" fill="#72b446"/>
<rect x="846.5" y="417" width="1.75" height="8" fill="#72b446"/>
<rect x="847" y="424" width="2" height="10" fill="#72b446"/>
<rect x="849" y="430" width="2" height="12" fill="#72b446"/>
<rect x="851" y="448" width="2" height="8" fill="#72b446"/>
<rect x="853" y="456" width="2.5" height="12.7" fill="#72b446"/>
<rect x="856.4" y="470.5" width="2.1" height="5.5" fill="#72b446"/>
<rect x="858.5" y="473" width="2.5" height="8.5" fill="#72b446"/>
<rect x="862" y="479" width="2" height="2" fill="#e8392f"/>
<rect x="866.6" y="479.7" width="2.4" height="3.3" fill="#72b446"/>
<rect x="869" y="482.37" width="1.75" height="4" fill="#72b446"/>
<rect x="870.5" y="482.96" width="1.75" height="4" fill="#72b446"/>
<rect x="874" y="485" width="3" height="3" fill="#e8392f"/>
<rect x="877" y="488.12" width="1.75" height="4.48" fill="#e8392f"/>
<rect x="878.5" y="487.44" width="1.75" height="4.48" fill="#e8392f"/>
<rect x="880" y="471.4" width="1.75" height="17.6" fill="#e8392f"/>
<rect x="881.5" y="467" width="1.75" height="17.6" fill="#e8392f"/>
<rect x="882" y="468.7" width="1.75" height="13.04" fill="#72b446"/>
<rect x="883.5" y="471.25" width="1.75" height="13.04" fill="#72b446"/>
<rect x="885" y="457.09" width="1.75" height="12.64" fill="#e8392f"/>
<rect x="886.5" y="454.7" width="1.75" height="12.64" fill="#e8392f"/>
<rect x="888" y="451" width="2" height="13" fill="#e8392f"/>
<rect x="890" y="450" width="2" height="13" fill="#72b446"/>
<rect x="892" y="462.7" width="1.6" height="6.8" fill="#e8392f"/>
<rect x="893.35" y="461.54" width="1.6" height="6.8" fill="#e8392f"/>
<rect x="893" y="461" width="1.2" height="4" fill="#72b446"/>
<rect x="895.7" y="461" width="2.7" height="3" fill="#72b446"/>
<rect x="899" y="465.8" width="3" height="1.8" fill="#72b446"/>
<rect x="902" y="467.6" width="2" height="3.7" fill="#e8392f"/>
<rect x="905" y="464" width="3" height="3.6" fill="#e8392f"/>
<rect x="908" y="464" width="3" height="3.6" fill="#72b446"/>
<rect x="911" y="467.6" width="4" height="3.4" fill="#72b446"/>
<rect x="915" y="470.22" width="1.48" height="2.48" fill="#72b446"/>
<rect x="916.23" y="470.75" width="1.48" height="2.48" fill="#72b446"/>
<rect x="917.47" y="471.52" width="1.48" height="2.48" fill="#72b446"/>
<rect x="918.7" y="473.19" width="1.57" height="2.48" fill="#72b446"/>
<rect x="920.03" y="473.24" width="1.57" height="2.48" fill="#72b446"/>
<rect x="921.35" y="474.12" width="1.57" height="2.48" fill="#72b446"/>
<rect x="922.67" y="474.52" width="1.57" height="2.48" fill="#72b446"/>
<rect x="922" y="475.9" width="1.58" height="3.1" fill="#e8392f"/>
<rect x="923.33" y="475.15" width="1.58" height="3.1" fill="#e8392f"/>
<rect x="924.67" y="474" width="1.58" height="3.1" fill="#e8392f"/>
<rect x="926" y="478" width="1.65" height="3.72" fill="#72b446"/>
<rect x="927.4" y="479.04" width="1.65" height="3.72" fill="#72b446"/>
<rect x="928.8" y="479.36" width="1.65" height="3.72" fill="#72b446"/>
<rect x="930.2" y="480.28" width="1.65" height="3.72" fill="#72b446"/>
<rect x="929" y="479" width="2" height="4" fill="#e8392f"/>
<rect x="932.5" y="484" width="2.5" height="17" fill="#72b446"/>
<rect x="935" y="500.75" width="1.75" height="8" fill="#72b446"/>
<rect x="936.5" y="501.83" width="1.75" height="8" fill="#72b446"/>
<rect x="938" y="508" width="1.65" height="7.2" fill="#72b446"/>
<rect x="939.4" y="509.8" width="1.65" height="7.2" fill="#72b446"/>
<rect x="940.8" y="517.35" width="1.48" height="5.95" fill="#72b446"/>
<rect x="942.03" y="518.32" width="1.48" height="5.95" fill="#72b446"/>
<rect x="943.27" y="520.08" width="1.48" height="5.95" fill="#72b446"/>
<rect x="944.5" y="522" width="2.5" height="9" fill="#e8392f"/>
<rect x="946" y="522" width="1.5" height="6.2" fill="#72b446"/>
<rect x="947.25" y="523.91" width="1.5" height="6.2" fill="#72b446"/>
<rect x="948.5" y="525.02" width="1.5" height="6.2" fill="#72b446"/>
<rect x="949.75" y="525.23" width="1.5" height="6.2" fill="#72b446"/>
<rect x="948" y="526" width="2" height="6" fill="#e8392f"/>
<rect x="951" y="527.3" width="1.75" height="10.72" fill="#72b446"/>
<rect x="952.5" y="529.28" width="1.75" height="10.72" fill="#72b446"/>
<rect x="954" y="538.55" width="1.75" height="17.36" fill="#72b446"/>
<rect x="955.5" y="541.82" width="1.75" height="17.36" fill="#72b446"/>
<rect x="957" y="546.7" width="1.58" height="9.3" fill="#e8392f"/>
<rect x="958.33" y="542.96" width="1.58" height="9.3" fill="#e8392f"/>
<rect x="959.67" y="541" width="1.58" height="9.3" fill="#e8392f"/>
<rect x="961" y="543" width="2" height="15" fill="#72b446"/>
<rect x="963" y="555.4" width="1.45" height="8" fill="#e8392f"/>
<rect x="964.2" y="553.26" width="1.45" height="8" fill="#e8392f"/>
<rect x="965.4" y="550.55" width="1.45" height="8" fill="#e8392f"/>
<rect x="967.5" y="523" width="2.5" height="27.5" fill="#e8392f"/>
<rect x="971" y="514.53" width="1.75" height="9.52" fill="#72b446"/>
<rect x="972.5" y="515.95" width="1.75" height="9.52" fill="#72b446"/>
<rect x="975" y="480.5" width="2" height="42.5" fill="#e8392f"/>
<rect x="977.6" y="490" width="1.8" height="34" fill="#72b446"/>
<rect x="979.4" y="516.24" width="1.55" height="10" fill="#72b446"/>
<rect x="980.7" y="518" width="1.55" height="10" fill="#72b446"/>
<rect x="982" y="518" width="2" height="12" fill="#e8392f"/>
<rect x="984" y="520.67" width="1.48" height="4.96" fill="#e8392f"/>
<rect x="985.23" y="519.2" width="1.48" height="4.96" fill="#e8392f"/>
<rect x="986.47" y="518" width="1.48" height="4.96" fill="#e8392f"/>
<rect x="60" y="543.88" width="1.3" height="5.75" fill="#e8392f"/>
<rect x="72" y="582.76" width="1.3" height="3.82" fill="#72b446"/>
<rect x="75" y="585.38" width="1.3" height="5.75" fill="#e8392f"/>
<rect x="77" y="589.38" width="1.3" height="3" fill="#72b446"/>
<rect x="78" y="589.25" width="1.3" height="3" fill="#72b446"/>
<rect x="79" y="589.12" width="1.3" height="3" fill="#e8392f"/>
<rect x="86" y="586.75" width="1.3" height="3" fill="#e8392f"/>
<rect x="88" y="586.33" width="1.3" height="3" fill="#72b446"/>
<rect x="89" y="586.17" width="1.3" height="3" fill="#e8392f"/>
<rect x="107" y="595.88" width="1.3" height="3" fill="#e8392f"/>
<rect x="113" y="594.2" width="1.3" height="3" fill="#72b446"/>
<rect x="139" y="565.75" width="1.3" height="3" fill="#e8392f"/>
<rect x="473" y="517" width="1.3" height="3" fill="#72b446"/>
<rect x="478" y="510.94" width="1.3" height="6.88" fill="#e8392f"/>
<rect x="483" y="511.02" width="1.3" height="3" fill="#72b446"/>
<rect x="486" y="500.18" width="1.3" height="3" fill="#e8392f"/>
<rect x="487" y="495.05" width="1.3" height="3" fill="#72b446"/>
<rect x="488" y="489.93" width="1.3" height="3" fill="#72b446"/>
<rect x="493" y="476.17" width="1.3" height="3.73" fill="#72b446"/>
<rect x="494" y="476.9" width="1.3" height="3.73" fill="#72b446"/>
<rect x="567" y="459.4" width="1.3" height="3" fill="#72b446"/>
<rect x="578" y="466.95" width="1.3" height="6.9" fill="#e8392f"/>
<rect x="581" y="471.95" width="1.3" height="3" fill="#72b446"/>
<rect x="582" y="471.1" width="1.3" height="3" fill="#72b446"/>
<rect x="592" y="466.4" width="1.3" height="3" fill="#e8392f"/>
<rect x="595" y="462.07" width="1.3" height="3" fill="#e8392f"/>
<rect x="596" y="459.34" width="1.3" height="3" fill="#72b446"/>
<rect x="597" y="456.61" width="1.3" height="3" fill="#e8392f"/>
<rect x="598" y="453.88" width="1.3" height="3" fill="#72b446"/>
<rect x="607" y="435.17" width="1.3" height="3" fill="#72b446"/>
<rect x="608" y="434.08" width="1.3" height="3" fill="#72b446"/>
<rect x="611" y="423.85" width="1.3" height="3" fill="#72b446"/>
<rect x="626" y="399.38" width="1.3" height="5.75" fill="#e8392f"/>
<rect x="642" y="342.78" width="1.3" height="3" fill="#72b446"/>
<rect x="643" y="342.27" width="1.3" height="3" fill="#e8392f"/>
<rect x="651" y="359" width="1.3" height="3" fill="#72b446"/>
<rect x="652" y="358" width="1.3" height="3" fill="#72b446"/>
<rect x="659" y="369.98" width="1.3" height="8.35" fill="#e8392f"/>
<rect x="665" y="372.73" width="1.3" height="3" fill="#e8392f"/>
<rect x="670" y="375.41" width="1.3" height="11.22" fill="#e8392f"/>
<rect x="682" y="392.67" width="1.3" height="3.33" fill="#72b446"/>
<rect x="683" y="393" width="1.3" height="3.33" fill="#e8392f"/>
<rect x="723" y="389.25" width="1.3" height="7" fill="#72b446"/>
<rect x="733" y="353.5" width="1.3" height="3" fill="#e8392f"/>
<rect x="764" y="333.24" width="1.3" height="6.18" fill="#72b446"/>
<rect x="861" y="476.44" width="1.3" height="4.38" fill="#e8392f"/>
<rect x="864" y="478.73" width="1.3" height="3.45" fill="#e8392f"/>
<rect x="865" y="479.18" width="1.3" height="3.45" fill="#72b446"/>
<rect x="872" y="483.33" width="1.3" height="3.67" fill="#72b446"/>
<rect x="873" y="484" width="1.3" height="3.67" fill="#72b446"/>
<rect x="904" y="466.12" width="1.3" height="3" fill="#72b446"/>
<rect x="970" y="526.7" width="1.3" height="3" fill="#72b446"/>
<rect x="974" y="509.2" width="1.3" height="3" fill="#72b446"/>
<rect x="44" y="725.6" width="944" height="1.2" fill="#6cbfe8" opacity="0.3"/>
<rect x="44" y="662" width="2.2" height="65" fill="#6cbfe8"/>
<rect x="46.2" y="723.91" width="1.67" height="3.09" fill="#6cbfe8"/>
<rect x="47.47" y="723.77" width="1.67" height="3.23" fill="#6cbfe8"/>
<rect x="48.73" y="723.32" width="1.67" height="3.68" fill="#6cbfe8"/>
<rect x="50" y="725" width="12" height="2" fill="#6cbfe8"/>
<rect x="62" y="725.6" width="53" height="1.4" fill="#6cbfe8"/>
<rect x="115" y="724.5" width="3" height="2.5" fill="#6cbfe8"/>
<rect x="118" y="722.56" width="1.4" height="4.44" fill="#6cbfe8"/>
<rect x="119" y="722.49" width="1.4" height="4.51" fill="#6cbfe8"/>
<rect x="120" y="722.34" width="1.4" height="4.66" fill="#6cbfe8"/>
<rect x="121" y="718" width="2.6" height="9" fill="#6cbfe8"/>
<rect x="124.4" y="717.56" width="1.43" height="9.44" fill="#6cbfe8"/>
<rect x="125.43" y="716.15" width="1.43" height="10.85" fill="#6cbfe8"/>
<rect x="126.47" y="715.64" width="1.43" height="11.36" fill="#6cbfe8"/>
<rect x="127.5" y="714.4" width="2.5" height="12.6" fill="#6cbfe8"/>
<rect x="130" y="702" width="2" height="25" fill="#6cbfe8"/>
<rect x="132" y="687.8" width="2.5" height="39.2" fill="#6cbfe8"/>
<rect x="134.5" y="709.7" width="1.5" height="17.3" fill="#6cbfe8"/>
<rect x="136" y="709" width="2.4" height="18" fill="#6cbfe8"/>
<rect x="138.4" y="705.8" width="2.4" height="21.2" fill="#6cbfe8"/>
<rect x="140.8" y="709.7" width="1.5" height="17.3" fill="#6cbfe8"/>
<rect x="142.3" y="704.88" width="1.47" height="22.12" fill="#6cbfe8"/>
<rect x="143.37" y="710.41" width="1.47" height="16.59" fill="#6cbfe8"/>
<rect x="144.43" y="708.76" width="1.47" height="18.24" fill="#6cbfe8"/>
<rect x="145.5" y="721.4" width="2.3" height="5.6" fill="#6cbfe8"/>
<rect x="147.8" y="721.4" width="1.6" height="5.6" fill="#6cbfe8"/>
<rect x="149.4" y="724.5" width="3.1" height="2.5" fill="#6cbfe8"/>
<rect x="152.5" y="725.5" width="3.5" height="1.5" fill="#6cbfe8"/>
<rect x="211.7" y="725" width="3.5" height="2" fill="#6cbfe8"/>
<rect x="248" y="725" width="4.7" height="2" fill="#6cbfe8"/>
<rect x="265.6" y="725.5" width="2.4" height="1.5" fill="#6cbfe8"/>
<rect x="279.7" y="725.3" width="2.3" height="1.7" fill="#6cbfe8"/>
<rect x="312.5" y="724.3" width="2.3" height="2.7" fill="#6cbfe8"/>
<rect x="323" y="725.3" width="4.7" height="1.7" fill="#6cbfe8"/>
<rect x="332.4" y="717.3" width="2.35" height="9.7" fill="#6cbfe8"/>
<rect x="333.6" y="713.75" width="2.4" height="13.25" fill="#6cbfe8"/>
<rect x="336" y="715" width="2.3" height="12" fill="#6cbfe8"/>
<rect x="338.3" y="723.24" width="1.57" height="3.76" fill="#6cbfe8"/>
<rect x="339.47" y="721.94" width="1.57" height="5.06" fill="#6cbfe8"/>
<rect x="340.63" y="722.15" width="1.57" height="4.85" fill="#6cbfe8"/>
<rect x="345.3" y="725" width="4.7" height="2" fill="#6cbfe8"/>
<rect x="354.7" y="724.3" width="2.3" height="2.7" fill="#6cbfe8"/>
<rect x="357" y="725.5" width="3.5" height="1.5" fill="#6cbfe8"/>
<rect x="367.6" y="725" width="2.4" height="2" fill="#6cbfe8"/>
<rect x="384" y="723" width="2.3" height="4" fill="#6cbfe8"/>
<rect x="451.7" y="723.55" width="1.37" height="3.45" fill="#6cbfe8"/>
<rect x="452.67" y="721.95" width="1.37" height="5.05" fill="#6cbfe8"/>
<rect x="453.63" y="721.98" width="1.37" height="5.02" fill="#6cbfe8"/>
<rect x="456.6" y="720.69" width="1.37" height="6.31" fill="#6cbfe8"/>
<rect x="457.57" y="720.79" width="1.37" height="6.21" fill="#6cbfe8"/>
<rect x="458.53" y="721.87" width="1.37" height="5.13" fill="#6cbfe8"/>
<rect x="466.4" y="722.21" width="1.37" height="4.79" fill="#6cbfe8"/>
<rect x="467.37" y="720.99" width="1.37" height="6.01" fill="#6cbfe8"/>
<rect x="468.33" y="722.11" width="1.37" height="4.89" fill="#6cbfe8"/>
<rect x="470" y="725" width="5" height="2" fill="#6cbfe8"/>
<rect x="483" y="725" width="9.7" height="2" fill="#6cbfe8"/>
<rect x="496.6" y="725" width="3.9" height="2" fill="#6cbfe8"/>
<rect x="500.5" y="723.29" width="1.58" height="3.71" fill="#6cbfe8"/>
<rect x="501.68" y="723.21" width="1.58" height="3.79" fill="#6cbfe8"/>
<rect x="502.86" y="723.57" width="1.58" height="3.43" fill="#6cbfe8"/>
<rect x="504.04" y="722.83" width="1.58" height="4.17" fill="#6cbfe8"/>
<rect x="505.22" y="722.87" width="1.58" height="4.13" fill="#6cbfe8"/>
<rect x="506.4" y="720.25" width="1.38" height="6.75" fill="#6cbfe8"/>
<rect x="507.38" y="721.01" width="1.38" height="5.99" fill="#6cbfe8"/>
<rect x="508.35" y="720.73" width="1.38" height="6.27" fill="#6cbfe8"/>
<rect x="509.32" y="721.06" width="1.38" height="5.94" fill="#6cbfe8"/>
<rect x="510.3" y="712.81" width="1.37" height="14.19" fill="#6cbfe8"/>
<rect x="511.27" y="713.91" width="1.37" height="13.09" fill="#6cbfe8"/>
<rect x="512.23" y="714.86" width="1.37" height="12.14" fill="#6cbfe8"/>
<rect x="513.2" y="717.72" width="1.67" height="9.28" fill="#6cbfe8"/>
<rect x="514.47" y="717.73" width="1.67" height="9.27" fill="#6cbfe8"/>
<rect x="515.73" y="718.21" width="1.67" height="8.79" fill="#6cbfe8"/>
<rect x="517" y="717.15" width="1.4" height="9.85" fill="#6cbfe8"/>
<rect x="518" y="718.58" width="1.4" height="8.42" fill="#6cbfe8"/>
<rect x="519" y="718.89" width="1.4" height="8.11" fill="#6cbfe8"/>
<rect x="520" y="718.68" width="1.4" height="8.32" fill="#6cbfe8"/>
<rect x="521" y="719.47" width="1.4" height="7.53" fill="#6cbfe8"/>
<rect x="522" y="720.43" width="1.4" height="6.57" fill="#6cbfe8"/>
<rect x="523" y="721.3" width="1.4" height="5.7" fill="#6cbfe8"/>
<rect x="524" y="720.24" width="1.4" height="6.76" fill="#6cbfe8"/>
<rect x="525" y="721.33" width="1.4" height="5.67" fill="#6cbfe8"/>
<rect x="527" y="709.96" width="1.4" height="17.04" fill="#6cbfe8"/>
<rect x="528" y="710.6" width="1.4" height="16.4" fill="#6cbfe8"/>
<rect x="529" y="715.48" width="1.4" height="11.52" fill="#6cbfe8"/>
<rect x="530" y="720.16" width="1.54" height="6.84" fill="#6cbfe8"/>
<rect x="531.14" y="717.99" width="1.54" height="9.01" fill="#6cbfe8"/>
<rect x="532.28" y="719.35" width="1.54" height="7.65" fill="#6cbfe8"/>
<rect x="533.42" y="717.77" width="1.54" height="9.23" fill="#6cbfe8"/>
<rect x="534.56" y="719.58" width="1.54" height="7.42" fill="#6cbfe8"/>
<rect x="536.7" y="716.93" width="1.51" height="10.07" fill="#6cbfe8"/>
<rect x="537.81" y="714.22" width="1.51" height="12.78" fill="#6cbfe8"/>
<rect x="538.93" y="713.5" width="1.51" height="13.5" fill="#6cbfe8"/>
<rect x="540.04" y="715.97" width="1.51" height="11.03" fill="#6cbfe8"/>
<rect x="541.16" y="716.86" width="1.51" height="10.14" fill="#6cbfe8"/>
<rect x="542.27" y="715.66" width="1.51" height="11.34" fill="#6cbfe8"/>
<rect x="543.39" y="712.59" width="1.51" height="14.41" fill="#6cbfe8"/>
<rect x="544.5" y="720.45" width="1.37" height="6.55" fill="#6cbfe8"/>
<rect x="545.47" y="721.97" width="1.37" height="5.03" fill="#6cbfe8"/>
<rect x="546.43" y="721.66" width="1.37" height="5.34" fill="#6cbfe8"/>
<rect x="547.4" y="724.3" width="3.9" height="2.7" fill="#6cbfe8"/>
<rect x="551.3" y="718.3" width="1.58" height="8.7" fill="#6cbfe8"/>
<rect x="552.48" y="718.47" width="1.58" height="8.53" fill="#6cbfe8"/>
<rect x="553.66" y="715.42" width="1.58" height="11.58" fill="#6cbfe8"/>
<rect x="554.84" y="717.98" width="1.58" height="9.02" fill="#6cbfe8"/>
<rect x="556.02" y="716.4" width="1.58" height="10.6" fill="#6cbfe8"/>
<rect x="557.2" y="722.86" width="1.6" height="4.14" fill="#6cbfe8"/>
<rect x="558.4" y="723.29" width="1.6" height="3.71" fill="#6cbfe8"/>
<rect x="559.6" y="722.38" width="1.6" height="4.62" fill="#6cbfe8"/>
<rect x="560.8" y="723.39" width="1.6" height="3.61" fill="#6cbfe8"/>
<rect x="562" y="718.43" width="1.4" height="8.57" fill="#6cbfe8"/>
<rect x="563" y="720.14" width="1.4" height="6.86" fill="#6cbfe8"/>
<rect x="564" y="719.16" width="1.4" height="7.84" fill="#6cbfe8"/>
<rect x="565" y="719.83" width="1.4" height="7.17" fill="#6cbfe8"/>
<rect x="567" y="718.01" width="1.6" height="8.99" fill="#6cbfe8"/>
<rect x="568.2" y="715.24" width="1.6" height="11.76" fill="#6cbfe8"/>
<rect x="569.4" y="715.9" width="1.6" height="11.1" fill="#6cbfe8"/>
<rect x="570.6" y="717.88" width="1.6" height="9.12" fill="#6cbfe8"/>
<rect x="571.8" y="724.3" width="3" height="2.7" fill="#6cbfe8"/>
<rect x="576.7" y="726" width="11.7" height="1" fill="#6cbfe8"/>
<rect x="598" y="724.3" width="4" height="2.7" fill="#6cbfe8"/>
<rect x="604" y="722.12" width="1.4" height="4.88" fill="#6cbfe8"/>
<rect x="605" y="723.26" width="1.4" height="3.74" fill="#6cbfe8"/>
<rect x="606" y="722.95" width="1.4" height="4.05" fill="#6cbfe8"/>
<rect x="607" y="722.17" width="1.4" height="4.83" fill="#6cbfe8"/>
<rect x="610" y="723.48" width="1.4" height="3.52" fill="#6cbfe8"/>
<rect x="611" y="724.2" width="1.4" height="2.8" fill="#6cbfe8"/>
<rect x="612" y="723.02" width="1.4" height="3.98" fill="#6cbfe8"/>
<rect x="613" y="724.05" width="1.4" height="2.95" fill="#6cbfe8"/>
<rect x="619.7" y="725.7" width="15.3" height="1.3" fill="#6cbfe8"/>
<rect x="635" y="721.31" width="1.4" height="5.69" fill="#6cbfe8"/>
<rect x="636" y="720.01" width="1.4" height="6.99" fill="#6cbfe8"/>
<rect x="637" y="721.13" width="1.4" height="5.87" fill="#6cbfe8"/>
<rect x="638" y="721.21" width="1.4" height="5.79" fill="#6cbfe8"/>
<rect x="639" y="721.78" width="1.4" height="5.22" fill="#6cbfe8"/>
<rect x="640" y="721.96" width="1.4" height="5.04" fill="#6cbfe8"/>
<rect x="641" y="720.77" width="1.4" height="6.23" fill="#6cbfe8"/>
<rect x="642" y="721.59" width="1.4" height="5.41" fill="#6cbfe8"/>
<rect x="650" y="725" width="5.6" height="2" fill="#6cbfe8"/>
<rect x="659.5" y="725" width="7.8" height="2" fill="#6cbfe8"/>
<rect x="673" y="723.44" width="1.4" height="3.56" fill="#6cbfe8"/>
<rect x="674" y="723.76" width="1.4" height="3.24" fill="#6cbfe8"/>
<rect x="675" y="723.64" width="1.4" height="3.36" fill="#6cbfe8"/>
<rect x="679" y="725.7" width="27.4" height="1.3" fill="#6cbfe8"/>
<rect x="707.4" y="722.95" width="1.37" height="4.05" fill="#6cbfe8"/>
<rect x="708.37" y="723.6" width="1.37" height="3.4" fill="#6cbfe8"/>
<rect x="709.33" y="723.48" width="1.37" height="3.52" fill="#6cbfe8"/>
<rect x="712" y="725" width="16" height="2" fill="#6cbfe8"/>
<rect x="729" y="721.07" width="1.59" height="5.93" fill="#6cbfe8"/>
<rect x="730.19" y="722.48" width="1.59" height="4.52" fill="#6cbfe8"/>
<rect x="731.38" y="722.54" width="1.59" height="4.46" fill="#6cbfe8"/>
<rect x="732.56" y="720.98" width="1.59" height="6.02" fill="#6cbfe8"/>
<rect x="735.7" y="718.17" width="1.37" height="8.83" fill="#6cbfe8"/>
<rect x="736.67" y="719.95" width="1.37" height="7.05" fill="#6cbfe8"/>
<rect x="737.63" y="720.14" width="1.37" height="6.86" fill="#6cbfe8"/>
<rect x="738.6" y="723.25" width="1.4" height="3.75" fill="#6cbfe8"/>
<rect x="739.6" y="722.98" width="1.4" height="4.02" fill="#6cbfe8"/>
<rect x="740.6" y="724" width="1.4" height="3" fill="#6cbfe8"/>
<rect x="741.6" y="717.76" width="1.37" height="9.24" fill="#6cbfe8"/>
<rect x="742.57" y="717.97" width="1.37" height="9.03" fill="#6cbfe8"/>
<rect x="743.53" y="718.85" width="1.37" height="8.15" fill="#6cbfe8"/>
<rect x="745.5" y="723.69" width="1.37" height="3.31" fill="#6cbfe8"/>
<rect x="746.48" y="724.12" width="1.37" height="2.88" fill="#6cbfe8"/>
<rect x="747.45" y="724.21" width="1.37" height="2.79" fill="#6cbfe8"/>
<rect x="748.42" y="722.95" width="1.37" height="4.05" fill="#6cbfe8"/>
<rect x="749.4" y="725" width="5.6" height="2" fill="#6cbfe8"/>
<rect x="755" y="721.6" width="1.6" height="5.4" fill="#6cbfe8"/>
<rect x="756.2" y="720.48" width="1.6" height="6.52" fill="#6cbfe8"/>
<rect x="757.4" y="721.56" width="1.6" height="5.44" fill="#6cbfe8"/>
<rect x="758.6" y="720.19" width="1.6" height="6.81" fill="#6cbfe8"/>
<rect x="759.8" y="720.74" width="1.6" height="6.26" fill="#6cbfe8"/>
<rect x="761" y="719.82" width="1.4" height="7.18" fill="#6cbfe8"/>
<rect x="762" y="720.19" width="1.4" height="6.81" fill="#6cbfe8"/>
<rect x="763" y="718.48" width="1.4" height="8.52" fill="#6cbfe8"/>
<rect x="764" y="715.46" width="1.4" height="11.54" fill="#6cbfe8"/>
<rect x="765" y="714.57" width="1.4" height="12.43" fill="#6cbfe8"/>
<rect x="766" y="712.72" width="1.4" height="14.28" fill="#6cbfe8"/>
<rect x="767" y="711.08" width="1.4" height="15.92" fill="#6cbfe8"/>
<rect x="768" y="716.08" width="1.4" height="10.92" fill="#6cbfe8"/>
<rect x="769" y="717.48" width="1.4" height="9.52" fill="#6cbfe8"/>
<rect x="770" y="714.82" width="1.4" height="12.18" fill="#6cbfe8"/>
<rect x="771" y="719.3" width="1.4" height="7.7" fill="#6cbfe8"/>
<rect x="772" y="719.96" width="1.4" height="7.04" fill="#6cbfe8"/>
<rect x="773" y="719.08" width="1.4" height="7.92" fill="#6cbfe8"/>
<rect x="774" y="704.37" width="1.75" height="22.63" fill="#6cbfe8"/>
<rect x="775.35" y="707.94" width="1.75" height="19.06" fill="#6cbfe8"/>
<rect x="776.7" y="717.3" width="1" height="9.7" fill="#6cbfe8"/>
<rect x="777.7" y="707.6" width="2.5" height="19.4" fill="#6cbfe8"/>
<rect x="780.2" y="714.4" width="2.4" height="12.6" fill="#6cbfe8"/>
<rect x="782.6" y="717" width="1.9" height="10" fill="#6cbfe8"/>
<rect x="784.5" y="712.51" width="1.4" height="14.49" fill="#6cbfe8"/>
<rect x="785.5" y="711.22" width="1.4" height="15.78" fill="#6cbfe8"/>
<rect x="786.5" y="709.87" width="1.4" height="17.13" fill="#6cbfe8"/>
<rect x="787.5" y="718.3" width="1.3" height="8.7" fill="#6cbfe8"/>
<rect x="789.4" y="726" width="16.6" height="1" fill="#6cbfe8"/>
<rect x="806" y="725" width="15.6" height="2" fill="#6cbfe8"/>
<rect x="815.8" y="724.2" width="4.9" height="2.8" fill="#6cbfe8"/>
<rect x="832.4" y="724.08" width="1.62" height="2.92" fill="#6cbfe8"/>
<rect x="833.62" y="723.77" width="1.62" height="3.23" fill="#6cbfe8"/>
<rect x="834.85" y="723.05" width="1.62" height="3.95" fill="#6cbfe8"/>
<rect x="836.07" y="722.92" width="1.62" height="4.08" fill="#6cbfe8"/>
<rect x="840" y="726" width="5.5" height="1" fill="#6cbfe8"/>
<rect x="845.5" y="721.5" width="1.43" height="5.5" fill="#6cbfe8"/>
<rect x="846.53" y="721.43" width="1.43" height="5.57" fill="#6cbfe8"/>
<rect x="847.57" y="721.65" width="1.43" height="5.35" fill="#6cbfe8"/>
<rect x="848.6" y="725" width="1.4" height="2" fill="#6cbfe8"/>
<rect x="850" y="723.76" width="1.52" height="3.24" fill="#6cbfe8"/>
<rect x="851.12" y="723.92" width="1.52" height="3.08" fill="#6cbfe8"/>
<rect x="852.24" y="723.95" width="1.52" height="3.05" fill="#6cbfe8"/>
<rect x="853.36" y="722.6" width="1.52" height="4.4" fill="#6cbfe8"/>
<rect x="854.48" y="722.92" width="1.52" height="4.08" fill="#6cbfe8"/>
<rect x="855.6" y="725" width="4.4" height="2" fill="#6cbfe8"/>
<rect x="860" y="721.67" width="1.4" height="5.33" fill="#6cbfe8"/>
<rect x="861" y="723.36" width="1.4" height="3.64" fill="#6cbfe8"/>
<rect x="862" y="722.25" width="1.4" height="4.75" fill="#6cbfe8"/>
<rect x="863" y="722.53" width="1.4" height="4.47" fill="#6cbfe8"/>
<rect x="864" y="719.14" width="1.7" height="7.86" fill="#6cbfe8"/>
<rect x="865.3" y="720.32" width="1.7" height="6.68" fill="#6cbfe8"/>
<rect x="866.6" y="722" width="2.4" height="5" fill="#6cbfe8"/>
<rect x="869" y="724.5" width="3" height="2.5" fill="#6cbfe8"/>
<rect x="872" y="720.79" width="1.4" height="6.21" fill="#6cbfe8"/>
<rect x="873" y="722.7" width="1.4" height="4.3" fill="#6cbfe8"/>
<rect x="874" y="721.73" width="1.4" height="5.27" fill="#6cbfe8"/>
<rect x="875" y="725" width="3" height="2" fill="#6cbfe8"/>
<rect x="878" y="723.55" width="1.4" height="3.45" fill="#6cbfe8"/>
<rect x="879" y="723.35" width="1.4" height="3.65" fill="#6cbfe8"/>
<rect x="880" y="723.55" width="1.4" height="3.45" fill="#6cbfe8"/>
<rect x="881" y="726" width="2.75" height="1" fill="#6cbfe8"/>
<rect x="883.75" y="712.7" width="2.25" height="14.3" fill="#6cbfe8"/>
<rect x="886" y="720.5" width="2.4" height="6.5" fill="#6cbfe8"/>
<rect x="888.4" y="721.4" width="1.47" height="5.6" fill="#6cbfe8"/>
<rect x="889.47" y="721.22" width="1.47" height="5.78" fill="#6cbfe8"/>
<rect x="890.53" y="720.97" width="1.47" height="6.03" fill="#6cbfe8"/>
<rect x="891.6" y="723.44" width="1.43" height="3.56" fill="#6cbfe8"/>
<rect x="892.63" y="722.94" width="1.43" height="4.06" fill="#6cbfe8"/>
<rect x="893.67" y="722.61" width="1.43" height="4.39" fill="#6cbfe8"/>
<rect x="894.7" y="723.49" width="1.47" height="3.51" fill="#6cbfe8"/>
<rect x="895.78" y="724.04" width="1.47" height="2.96" fill="#6cbfe8"/>
<rect x="896.85" y="723.58" width="1.47" height="3.42" fill="#6cbfe8"/>
<rect x="897.92" y="723.5" width="1.47" height="3.5" fill="#6cbfe8"/>
<rect x="899" y="721.67" width="1.4" height="5.33" fill="#6cbfe8"/>
<rect x="900" y="721.57" width="1.4" height="5.43" fill="#6cbfe8"/>
<rect x="901" y="722.07" width="1.4" height="4.93" fill="#6cbfe8"/>
<rect x="902" y="721.65" width="1.4" height="5.35" fill="#6cbfe8"/>
<rect x="903" y="721.6" width="1.4" height="5.4" fill="#6cbfe8"/>
<rect x="904" y="721.53" width="1.59" height="5.47" fill="#6cbfe8"/>
<rect x="905.19" y="720.06" width="1.59" height="6.94" fill="#6cbfe8"/>
<rect x="906.38" y="719.13" width="1.59" height="7.87" fill="#6cbfe8"/>
<rect x="907.56" y="719.43" width="1.59" height="7.57" fill="#6cbfe8"/>
<rect x="908.75" y="722.87" width="1.56" height="4.13" fill="#6cbfe8"/>
<rect x="909.91" y="723.39" width="1.56" height="3.61" fill="#6cbfe8"/>
<rect x="911.08" y="722.86" width="1.56" height="4.14" fill="#6cbfe8"/>
<rect x="912.24" y="723.1" width="1.56" height="3.9" fill="#6cbfe8"/>
<rect x="913.4" y="724.3" width="3.2" height="2.7" fill="#6cbfe8"/>
<rect x="916.6" y="723.31" width="1.43" height="3.69" fill="#6cbfe8"/>
<rect x="917.63" y="722.71" width="1.43" height="4.29" fill="#6cbfe8"/>
<rect x="918.67" y="723.85" width="1.43" height="3.15" fill="#6cbfe8"/>
<rect x="919.7" y="722.84" width="1.43" height="4.16" fill="#6cbfe8"/>
<rect x="920.73" y="723.93" width="1.43" height="3.07" fill="#6cbfe8"/>
<rect x="921.77" y="723.07" width="1.43" height="3.93" fill="#6cbfe8"/>
<rect x="922.8" y="721.86" width="1.38" height="5.14" fill="#6cbfe8"/>
<rect x="923.77" y="722.38" width="1.38" height="4.62" fill="#6cbfe8"/>
<rect x="924.75" y="721.41" width="1.38" height="5.59" fill="#6cbfe8"/>
<rect x="925.73" y="721.83" width="1.38" height="5.17" fill="#6cbfe8"/>
<rect x="926.7" y="719.38" width="1.37" height="7.62" fill="#6cbfe8"/>
<rect x="927.68" y="718.48" width="1.37" height="8.52" fill="#6cbfe8"/>
<rect x="928.65" y="720.42" width="1.37" height="6.58" fill="#6cbfe8"/>
<rect x="929.62" y="721.14" width="1.37" height="5.86" fill="#6cbfe8"/>
<rect x="930.6" y="720.5" width="2.4" height="6.5" fill="#6cbfe8"/>
<rect x="933" y="715.8" width="2.3" height="11.2" fill="#6cbfe8"/>
<rect x="935.3" y="722.24" width="1.58" height="4.76" fill="#6cbfe8"/>
<rect x="936.47" y="721.46" width="1.58" height="5.54" fill="#6cbfe8"/>
<rect x="937.65" y="722.44" width="1.58" height="4.56" fill="#6cbfe8"/>
<rect x="938.83" y="722.51" width="1.58" height="4.49" fill="#6cbfe8"/>
<rect x="940" y="715.28" width="1.4" height="11.72" fill="#6cbfe8"/>
<rect x="941" y="716.27" width="1.4" height="10.73" fill="#6cbfe8"/>
<rect x="942" y="717.15" width="1.4" height="9.85" fill="#6cbfe8"/>
<rect x="943" y="717.63" width="1.48" height="9.37" fill="#6cbfe8"/>
<rect x="944.08" y="719.46" width="1.48" height="7.54" fill="#6cbfe8"/>
<rect x="945.17" y="718.36" width="1.48" height="8.64" fill="#6cbfe8"/>
<rect x="946.25" y="710.06" width="1.45" height="16.94" fill="#6cbfe8"/>
<rect x="947.3" y="708.27" width="1.45" height="18.73" fill="#6cbfe8"/>
<rect x="948.35" y="705.38" width="1.45" height="21.62" fill="#6cbfe8"/>
<rect x="949.4" y="710.3" width="2.3" height="16.7" fill="#6cbfe8"/>
<rect x="951.7" y="716.5" width="1.6" height="10.5" fill="#6cbfe8"/>
<rect x="953.3" y="713.4" width="2.3" height="13.6" fill="#6cbfe8"/>
<rect x="955.6" y="718.5" width="1.37" height="8.5" fill="#6cbfe8"/>
<rect x="956.58" y="718.6" width="1.37" height="8.4" fill="#6cbfe8"/>
<rect x="957.55" y="720.05" width="1.37" height="6.95" fill="#6cbfe8"/>
<rect x="958.52" y="719.47" width="1.37" height="7.53" fill="#6cbfe8"/>
<rect x="959.5" y="713.07" width="1.47" height="13.93" fill="#6cbfe8"/>
<rect x="960.57" y="714.16" width="1.47" height="12.84" fill="#6cbfe8"/>
<rect x="961.63" y="711.99" width="1.47" height="15.01" fill="#6cbfe8"/>
<rect x="962.7" y="712.7" width="2.3" height="14.3" fill="#6cbfe8"/>
<rect x="965" y="711.58" width="1.4" height="15.42" fill="#6cbfe8"/>
<rect x="966" y="711.51" width="1.4" height="15.49" fill="#6cbfe8"/>
<rect x="967" y="712.26" width="1.4" height="14.74" fill="#6cbfe8"/>
<rect x="968" y="708.41" width="1.4" height="18.59" fill="#6cbfe8"/>
<rect x="969" y="712.66" width="1.4" height="14.34" fill="#6cbfe8"/>
<rect x="970" y="713.33" width="1.4" height="13.67" fill="#6cbfe8"/>
<rect x="971" y="711.56" width="1.4" height="15.44" fill="#6cbfe8"/>
<rect x="972" y="708.75" width="1" height="18.25" fill="#6cbfe8"/>
<rect x="972.8" y="700.9" width="1.9" height="26.1" fill="#6cbfe8"/>
<rect x="974.7" y="708.75" width="1" height="18.25" fill="#6cbfe8"/>
<rect x="975" y="712.67" width="1.5" height="14.33" fill="#6cbfe8"/>
<rect x="976.1" y="713.05" width="1.5" height="13.95" fill="#6cbfe8"/>
<rect x="977.2" y="711.79" width="1.5" height="15.21" fill="#6cbfe8"/>
<rect x="978.3" y="717.3" width="2.3" height="9.7" fill="#6cbfe8"/>
<rect x="980.6" y="713.48" width="1.45" height="13.52" fill="#6cbfe8"/>
<rect x="981.65" y="714.16" width="1.45" height="12.84" fill="#6cbfe8"/>
<rect x="982.7" y="715.08" width="1.45" height="11.92" fill="#6cbfe8"/>
<rect x="983.75" y="717.09" width="1.36" height="9.91" fill="#6cbfe8"/>
<rect x="984.71" y="716.59" width="1.36" height="10.41" fill="#6cbfe8"/>
<rect x="985.67" y="718.44" width="1.36" height="8.56" fill="#6cbfe8"/>
<rect x="986.64" y="719.76" width="1.36" height="7.24" fill="#6cbfe8"/>
<rect x="44" y="726.6" width="944" height="1.8" fill="#1a3f7c"/>
<rect x="43.95" y="728" width="1.5" height="4.6" fill="#1a3f7c"/>
<rect x="104.35" y="728" width="1.5" height="4.6" fill="#1a3f7c"/>
<rect x="164.75" y="728" width="1.5" height="4.6" fill="#1a3f7c"/>
<rect x="225.15" y="728" width="1.5" height="4.6" fill="#1a3f7c"/>
<rect x="285.55" y="728" width="1.5" height="4.6" fill="#1a3f7c"/>
<rect x="345.95" y="728" width="1.5" height="4.6" fill="#1a3f7c"/>
<rect x="406.35" y="728" width="1.5" height="4.6" fill="#1a3f7c"/>
<rect x="466.75" y="728" width="1.5" height="4.6" fill="#1a3f7c"/>
<rect x="527.15" y="728" width="1.5" height="4.6" fill="#1a3f7c"/>
<rect x="587.55" y="728" width="1.5" height="4.6" fill="#1a3f7c"/>
<rect x="647.95" y="728" width="1.5" height="4.6" fill="#1a3f7c"/>
<rect x="708.35" y="728" width="1.5" height="4.6" fill="#1a3f7c"/>
<rect x="768.75" y="728" width="1.5" height="4.6" fill="#1a3f7c"/>
<rect x="829.15" y="728" width="1.5" height="4.6" fill="#1a3f7c"/>
<rect x="889.55" y="728" width="1.5" height="4.6" fill="#1a3f7c"/>
<rect x="986.25" y="728" width="1.5" height="4.6" fill="#1a3f7c"/>
</svg>
</body></html>
